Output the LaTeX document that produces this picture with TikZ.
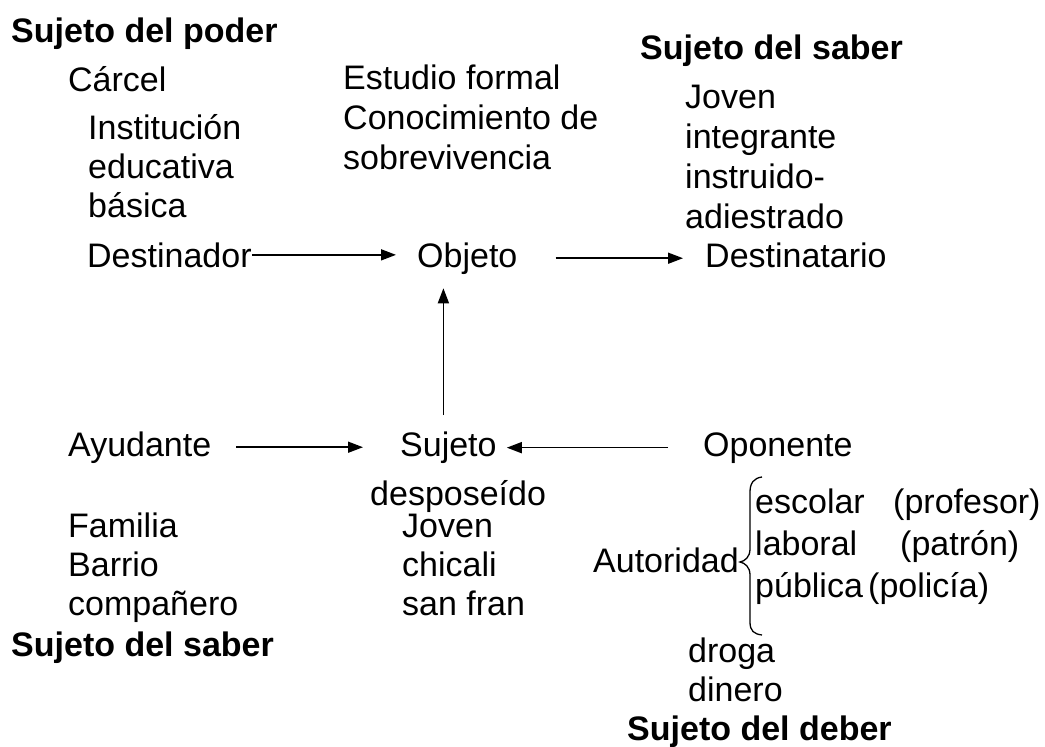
\documentclass[tikz,border=0pt]{standalone}
\usepackage{fontspec}
\setmainfont{Liberation Sans}
\usetikzlibrary{arrows.meta}
\tikzset{
  lbl/.style={inner sep=0pt,anchor=base west,align=left,font=\fontsize{34}{39}\selectfont},
  lblw/.style={lbl,font=\fontsize{34}{40}\selectfont},
  lbla/.style={lbl,font=\fontsize{34}{42}\selectfont},
  head/.style={inner sep=0pt,anchor=base west,font=\fontsize{34}{40}\selectfont\bfseries},
  arr/.style={line width=1.6pt,-{Triangle[length=15pt,width=11pt]}},
  bracel/.style={line width=1.3pt},
}

\begin{document}
\begin{tikzpicture}[x=1pt,y=-1pt]
  \useasboundingbox (0,0) rectangle (1045,747);
  % actantes
  \node[lbl] (destinador) at (87,267) {Destinador};
  \node[lbl] (objeto) at (417,267) {Objeto};
  \node[lbl] (destinatario) at (705,267) {Destinatario};
  \node[lbl] (ayudante) at (68,456) {Ayudante};
  \node[lbl] (sujeto) at (400,456) {Sujeto};
  \node[lbl] (oponente) at (703,456) {Oponente};
  % arriba (multilinea: base = ultima linea)
  \node[head] (poder) at (11,42) {Sujeto del poder};
  \node[lbl] (carcel) at (68,91) {Cárcel};
  \node[lbl] (inst) at (88,217) {Institución\\educativa\\básica};
  \node[lblw] (estudio) at (343,169) {Estudio formal\\Conocimiento de\\sobrevivencia};
  \node[head] (saberA) at (640,59) {Sujeto del saber};
  \node[lblw] (joven) at (685,228) {Joven\\integrante\\instruido-\\adiestrado};
  % abajo
  \node[lbl] (desp) at (370,505) {desposeído};
  \node[lbl] (jovenB) at (402,615) {Joven\\chicali\\san fran};
  \node[lbl] (familia) at (68,615) {Familia\\Barrio\\compañero};
  \node[head] (saberB) at (11,656) {Sujeto del saber};
  \node[lbl] (autoridad) at (593,572) {Autoridad};
  \node[lbla] (tipos) at (755,597) {escolar\\laboral\\pública};
  \node[lbl] (profesor) at (893,513) {(profesor)};
  \node[lbl] (patron) at (900,555) {(patrón)};
  \node[lbl] (policia) at (868,597) {(policía)};
  \node[lbl] (droga) at (688,701) {droga\\dinero};
  \node[head] (deber) at (627,740) {Sujeto del deber};
  % flechas
  \draw[arr,shorten >=21pt] (destinador.east) -- (objeto.west |- destinador.east);
  \draw[arr,shorten <=38pt,shorten >=22pt] (objeto.east) -- (destinatario.west |- objeto.east);
  \draw[arr,shorten <=25pt,shorten >=37pt] (ayudante.east) -- (sujeto.west |- ayudante.east);
  \draw[arr,shorten <=35pt,shorten >=10pt] (oponente.west) -- (sujeto.east |- oponente.west);
  \draw[arr,shorten <=16pt,shorten >=14pt] ([xshift=-5pt]sujeto.north) -- ([xshift=-5pt]sujeto.north |- objeto.south);
  % llave
  \draw[bracel] (762,477) .. controls (754,478) and (750,483) .. (750,492) -- (750,549)
    .. controls (750,557) and (745,561) .. (740,562) .. controls (745,563) and (750,567) .. (750,575)
    -- (750,622) .. controls (750,631) and (754,634) .. (762,635);
\end{tikzpicture}
\end{document}
